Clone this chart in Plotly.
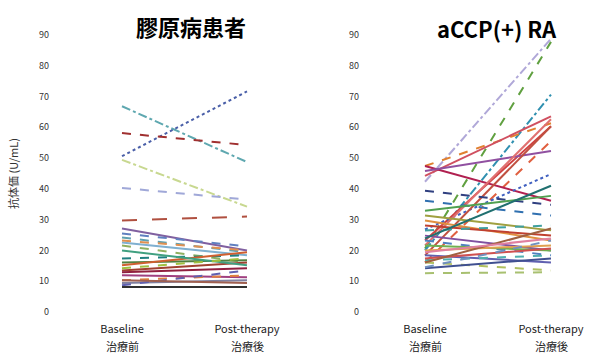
import plotly.graph_objects as go

# ---------------- data ----------------
timepoints = ["Baseline", "Post-therapy"]
timepoints_jp = ["治療前", "治療後"]
y_ticks = [0, 10, 20, 30, 40, 50, 60, 70, 80, 90, 100]

# left panel: 膠原病患者 (start, end)
left_start = [66.8, 50.6, 58.1, 49.4, 40.3, 29.7, 27.1, 25.5, 24.2, 22.6, 23.2, 21.6,
              17.4, 16.1, 15.2, 13.5, 12.9, 11.9, 10.3, 9.4, 8.7, 8.1, 10.3, 20.0, 14.2]
left_end = [48.7, 71.6, 54.2, 34.2, 36.5, 31.0, 20.0, 21.3, 19.4, 18.4, 20.0, 16.1,
            18.4, 16.8, 19.4, 16.1, 14.2, 11.3, 11.9, 10.3, 13.5, 8.1, 9.4, 15.2, 17.4]
left_colors = ["#5fa8b0", "#4a5fa8", "#a03030", "#c8d890", "#a0a8d8", "#b05040",
               "#8060a0", "#6080c0", "#60a0b0", "#80b0d0", "#e09050", "#90b060",
               "#208080", "#508040", "#d06030", "#a04030", "#902040", "#a04080",
               "#e08040", "#8080a0", "#6060b0", "#303030", "#a06050", "#40a080", "#a0c040"]
left_dash = ["dashdot", "dot", "dash", "dashdot", "dash", "longdash",
             "solid", "dash", "dash", "solid", "dash", "dash",
             "dash", "solid", "solid", "solid", "solid", "solid",
             "dash", "solid", "dash", "solid", "solid", "solid", "dash"]

# right panel: aCCP(+) RA (start, end)
right_start = [42.3, 20.6, 20.0, 47.4, 44.2, 23.2, 16.1, 47.4, 26.8, 45.8, 18.4, 21.6,
               39.4, 36.1, 32.9, 31.3, 29.7, 28.1, 26.5, 24.8, 23.2, 21.6, 20.0, 18.4,
               16.8, 16.1, 14.2, 12.6, 17.4, 23.9, 16.1, 19.4, 14.5]
right_end = [88.7, 87.7, 70.6, 61.3, 63.5, 60.3, 55.5, 36.1, 44.8, 52.3, 60.3, 62.6,
             34.8, 31.3, 37.7, 26.5, 23.2, 24.8, 28.1, 20.0, 18.4, 20.0, 21.6, 16.1,
             18.4, 13.5, 17.4, 12.9, 20.6, 41.0, 27.1, 23.9, 23.2]
right_colors = ["#b0a8d8", "#60a040", "#3090b0", "#e08030", "#d05060", "#d04040",
                "#e06040", "#b02050", "#4060c0", "#9050a0", "#c05040", "#e07070",
                "#304080", "#3070b0", "#50a050", "#a0a040", "#e09040", "#c04030",
                "#40a0a0", "#8050a0", "#5080c0", "#70b050", "#e0a050", "#6060b0",
                "#50b0b0", "#b0c060", "#405090", "#a8c070", "#d05050", "#207070",
                "#a06040", "#e080a0", "#7090c0"]
right_dash = ["dashdot", "dash", "dashdot", "dash", "solid", "solid",
              "dash", "solid", "dot", "solid", "solid", "solid",
              "dash", "dash", "solid", "solid", "solid", "solid",
              "dash", "solid", "dash", "solid", "solid", "solid",
              "dash", "dash", "solid", "dash", "solid", "solid",
              "solid", "solid", "dash"]

FONT = "Noto Sans CJK JP, Noto Sans, sans-serif"

fig = go.Figure()
for s, e, c, d in zip(left_start, left_end, left_colors, left_dash):
    fig.add_trace(go.Scatter(x=[0, 1], y=[s, e], mode="lines", xaxis="x", yaxis="y",
                             line=dict(color=c, width=2, dash=d), showlegend=False,
                             hoverinfo="skip"))
for s, e, c, d in zip(right_start, right_end, right_colors, right_dash):
    fig.add_trace(go.Scatter(x=[0, 1], y=[s, e], mode="lines", xaxis="x2", yaxis="y2",
                             line=dict(color=c, width=2, dash=d), showlegend=False,
                             hoverinfo="skip"))

W, H = 589, 355
ml, mr, mt, mb = 50, 4, 4, 43
pw = W - ml - mr
ph = H - mt - mb
ax_common = dict(showgrid=False, zeroline=False, showline=False, ticks="", automargin=False)
y_font = dict(size=9, color="#333333", family=FONT)
x_font = dict(size=11, color="#222222", family=FONT)


def px_x(p):
    return (p - ml) / pw


def px_y(p):
    return 1 - (p - mt) / ph


# right panel: category 0 at ~425 px, category 1 at ~551 px
r_dom0 = 360
r_scale = 126.0
r_lo = -(425 - r_dom0) / r_scale
r_hi = r_lo + (W - mr - r_dom0) / r_scale

annotations = [
    dict(text="<b>膠原病患者</b>", x=px_x(191), y=px_y(26),
         xref="paper", yref="paper", xanchor="center", yanchor="middle", showarrow=False,
         font=dict(size=22, color="black", family=FONT)),
    dict(text="<b>aCCP(+) RA</b>", x=px_x(497), y=px_y(28),
         xref="paper", yref="paper", xanchor="center", yanchor="middle", showarrow=False,
         font=dict(size=22, color="black", family=FONT)),
    dict(text="抗体価 (U/mL)", x=px_x(13), y=px_y(174),
         xref="paper", yref="paper", xanchor="center", yanchor="middle", showarrow=False,
         textangle=-90, font=dict(size=11, color="#333333", family=FONT)),
]
for xr in ["x", "x2"]:
    for i, t in enumerate(timepoints_jp):
        annotations.append(dict(text=t, x=i, xref=xr, y=px_y(346), yref="paper",
                                xanchor="center", yanchor="middle", showarrow=False,
                                font=x_font))

fig.update_layout(
    width=W, height=H,
    margin=dict(l=ml, r=mr, t=mt, b=mb),
    paper_bgcolor="white", plot_bgcolor="white",
    font=dict(family=FONT),
    xaxis=dict(domain=[0, 250 / pw], range=[-0.576, 1.424], tickvals=[0, 1],
               ticktext=timepoints, ticklabelstandoff=9, tickfont=x_font, **ax_common),
    xaxis2=dict(domain=[px_x(r_dom0), 1], range=[r_lo, r_hi], tickvals=[0, 1],
                ticktext=timepoints, ticklabelstandoff=9, tickfont=x_font, **ax_common),
    yaxis=dict(anchor="x", range=[0, 100], tickvals=y_ticks, tickfont=y_font, **ax_common),
    yaxis2=dict(anchor="x2", range=[0, 100], tickvals=y_ticks, tickfont=y_font, **ax_common),
    annotations=annotations,
)

fig.write_html("out.html", config={"displayModeBar": False},
               post_script="document.body.style.margin='0';")
